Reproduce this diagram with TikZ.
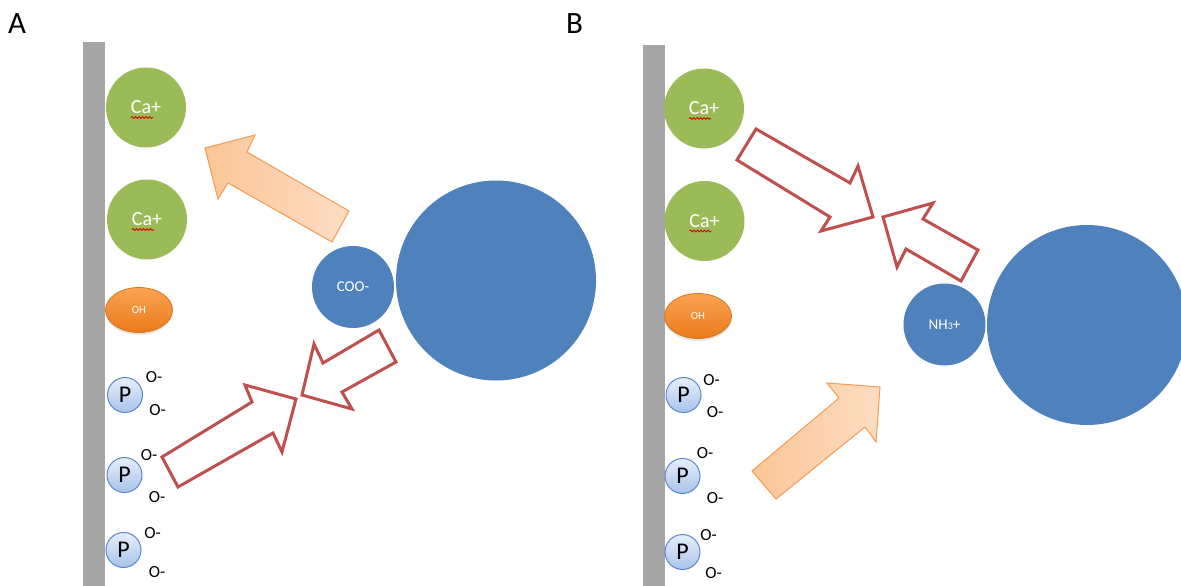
\documentclass[tikz,border=0pt]{standalone}
\usepackage{fontspec}
\setmainfont{Carlito}
\usetikzlibrary{shapes.geometric,shadows,decorations.pathmorphing}

\definecolor{wallgray}{HTML}{A6A6A6}
\definecolor{cagreen}{HTML}{9BBB59}
\definecolor{molblue}{HTML}{4F81BD}
\definecolor{arrowred}{HTML}{C0504D}
\definecolor{ohtop}{HTML}{F9A352}
\definecolor{ohbot}{HTML}{EC7A1C}
\definecolor{ohline}{HTML}{D7781E}
\definecolor{pedge}{HTML}{5A88C8}
\definecolor{ptop}{HTML}{E6EFFB}
\definecolor{pbot}{HTML}{A8C3EA}
\definecolor{peachA}{HTML}{FBC597}
\definecolor{peachB}{HTML}{FDDDC3}
\definecolor{peachline}{HTML}{F59A52}

\tikzset{
  wall/.style={fill=wallgray, draw=none},
  calcium/.style={circle, fill=cagreen, draw=none, minimum size=80pt, inner sep=0pt,
    text=white, font=\fontsize{20}{24}\selectfont},
  hydroxyl/.style={ellipse, minimum width=67pt, minimum height=45pt, inner sep=0pt,
    top color=ohtop, bottom color=ohbot, draw=ohline, line width=0.8pt,
    text=white, font=\fontsize{11}{13}\selectfont,
    drop shadow={opacity=0.2, shadow xshift=0pt, shadow yshift=-2.5pt}},
  phosphate/.style={circle, minimum size=35pt, inner sep=0pt, draw=pedge, line width=1pt,
    top color=ptop, bottom color=pbot, font=\fontsize{24}{28}\selectfont},
  charge/.style={inner sep=0pt, font=\fontsize{17}{20}\selectfont},
  group/.style={circle, fill=molblue, draw=none, inner sep=0pt, minimum size=82pt,
    text=white, font=\fontsize{15}{18}\selectfont},
  protein/.style={circle, fill=molblue, draw=none, inner sep=0pt, minimum size=200pt},
  panellabel/.style={inner sep=0pt, font=\fontsize{31}{36}\selectfont},
  outlinearrow/.style={draw=arrowred, line width=3pt, line join=miter, fill=white},
  softarrow/.style={draw=peachline, line width=1pt, line join=miter,
    left color=peachA, right color=peachB},
  squiggle/.style={draw=red!85!black, line width=0.8pt, decorate,
    decoration={snake, amplitude=1pt, segment length=3.5pt}}
}

\begin{document}
\begin{tikzpicture}[x=1pt,y=-1pt]
\useasboundingbox (0,0) rectangle (1181,586);
\fill[white] (0,0) rectangle (1181,586);

% ---------- panel A ----------
\node[panellabel] (labA) at (17,23.5) {A};
\fill[wall] (83,42) rectangle (105,586);

\node[calcium] (caA1) at (146,107.5) {Ca+};
\node[calcium] (caA2) at (147,219.5) {Ca+};
\node[hydroxyl] (ohA) at (139,310) {OH};

\node[phosphate] (pA1) at (125,395) {P};
\node[charge] (oA1a) at (154,377.5) {O-};
\node[charge] (oA1b) at (157.5,410) {O-};
\node[phosphate] (pA2) at (124.5,475) {P};
\node[charge] (oA2a) at (149,455) {O-};
\node[charge] (oA2b) at (157,497) {O-};
\node[phosphate] (pA3) at (123.5,550) {P};
\node[charge] (oA3a) at (152.5,533) {O-};
\node[charge] (oA3b) at (157,572) {O-};

\node[protein] (protA) at (496,280.5) {};
\node[group] (cooA) at (353,287) {COO-};

% carboxylate pulled towards calcium
\draw[softarrow] (205,148) -- (255,135) -- (247,152) -- (349,211) -- (332,242)
  -- (228,183) -- (218,199) -- cycle;
% carboxylate and phosphate repelling each other
\draw[outlinearrow] (296,399) -- (282,452) -- (273,433) -- (178,487) -- (162,457)
  -- (252,402) -- (245,385) -- cycle;
\draw[outlinearrow] (302,395) -- (314,344) -- (323,363) -- (379,330) -- (396,362)
  -- (342,392) -- (352,409) -- cycle;

% ---------- panel B ----------
\node[panellabel] (labB) at (574.5,23.5) {B};
\fill[wall] (643,45) rectangle (665,586);

\node[calcium] (caB1) at (704,108.5) {Ca+};
\node[calcium] (caB2) at (704.5,221) {Ca+};
\node[hydroxyl] (ohB) at (698,316) {OH};

\node[phosphate] (pB1) at (683.5,395) {P};
\node[charge] (oB1a) at (711.5,380) {O-};
\node[charge] (oB1b) at (715,412) {O-};
\node[phosphate] (pB2) at (682.5,476) {P};
\node[charge] (oB2a) at (705,453) {O-};
\node[charge] (oB2b) at (715,498) {O-};
\node[phosphate] (pB3) at (682.5,552) {P};
\node[charge] (oB3a) at (708.5,535) {O-};
\node[charge] (oB3b) at (713.5,573) {O-};

\node[protein] (protB) at (1087,325) {};
\node[group] (nhB) at (944.5,324.5) {NH\raisebox{0pt}{\fontsize{10}{12}\selectfont 3}+};

% ammonium and calcium repelling each other
\draw[outlinearrow] (873,217) -- (821,231) -- (830,217) -- (737,160) -- (756,129)
  -- (850,183) -- (858,166) -- cycle;
\draw[outlinearrow] (883,217) -- (933,203) -- (923,219) -- (978,250) -- (961,281)
  -- (906,249) -- (897,267) -- cycle;
% ammonium attracted by phosphate
\draw[softarrow] (880,387) -- (876,442) -- (865,427) -- (776,499) -- (752,471)
  -- (839,398) -- (827,383) -- cycle;

% spelling squiggles under "Ca"
\foreach \ion in {caA1,caA2,caB1,caB2}
  \draw[squiggle] ([xshift=-15pt,yshift=-10pt]\ion.center) -- ([xshift=7pt,yshift=-10pt]\ion.center);
\end{tikzpicture}
\end{document}
